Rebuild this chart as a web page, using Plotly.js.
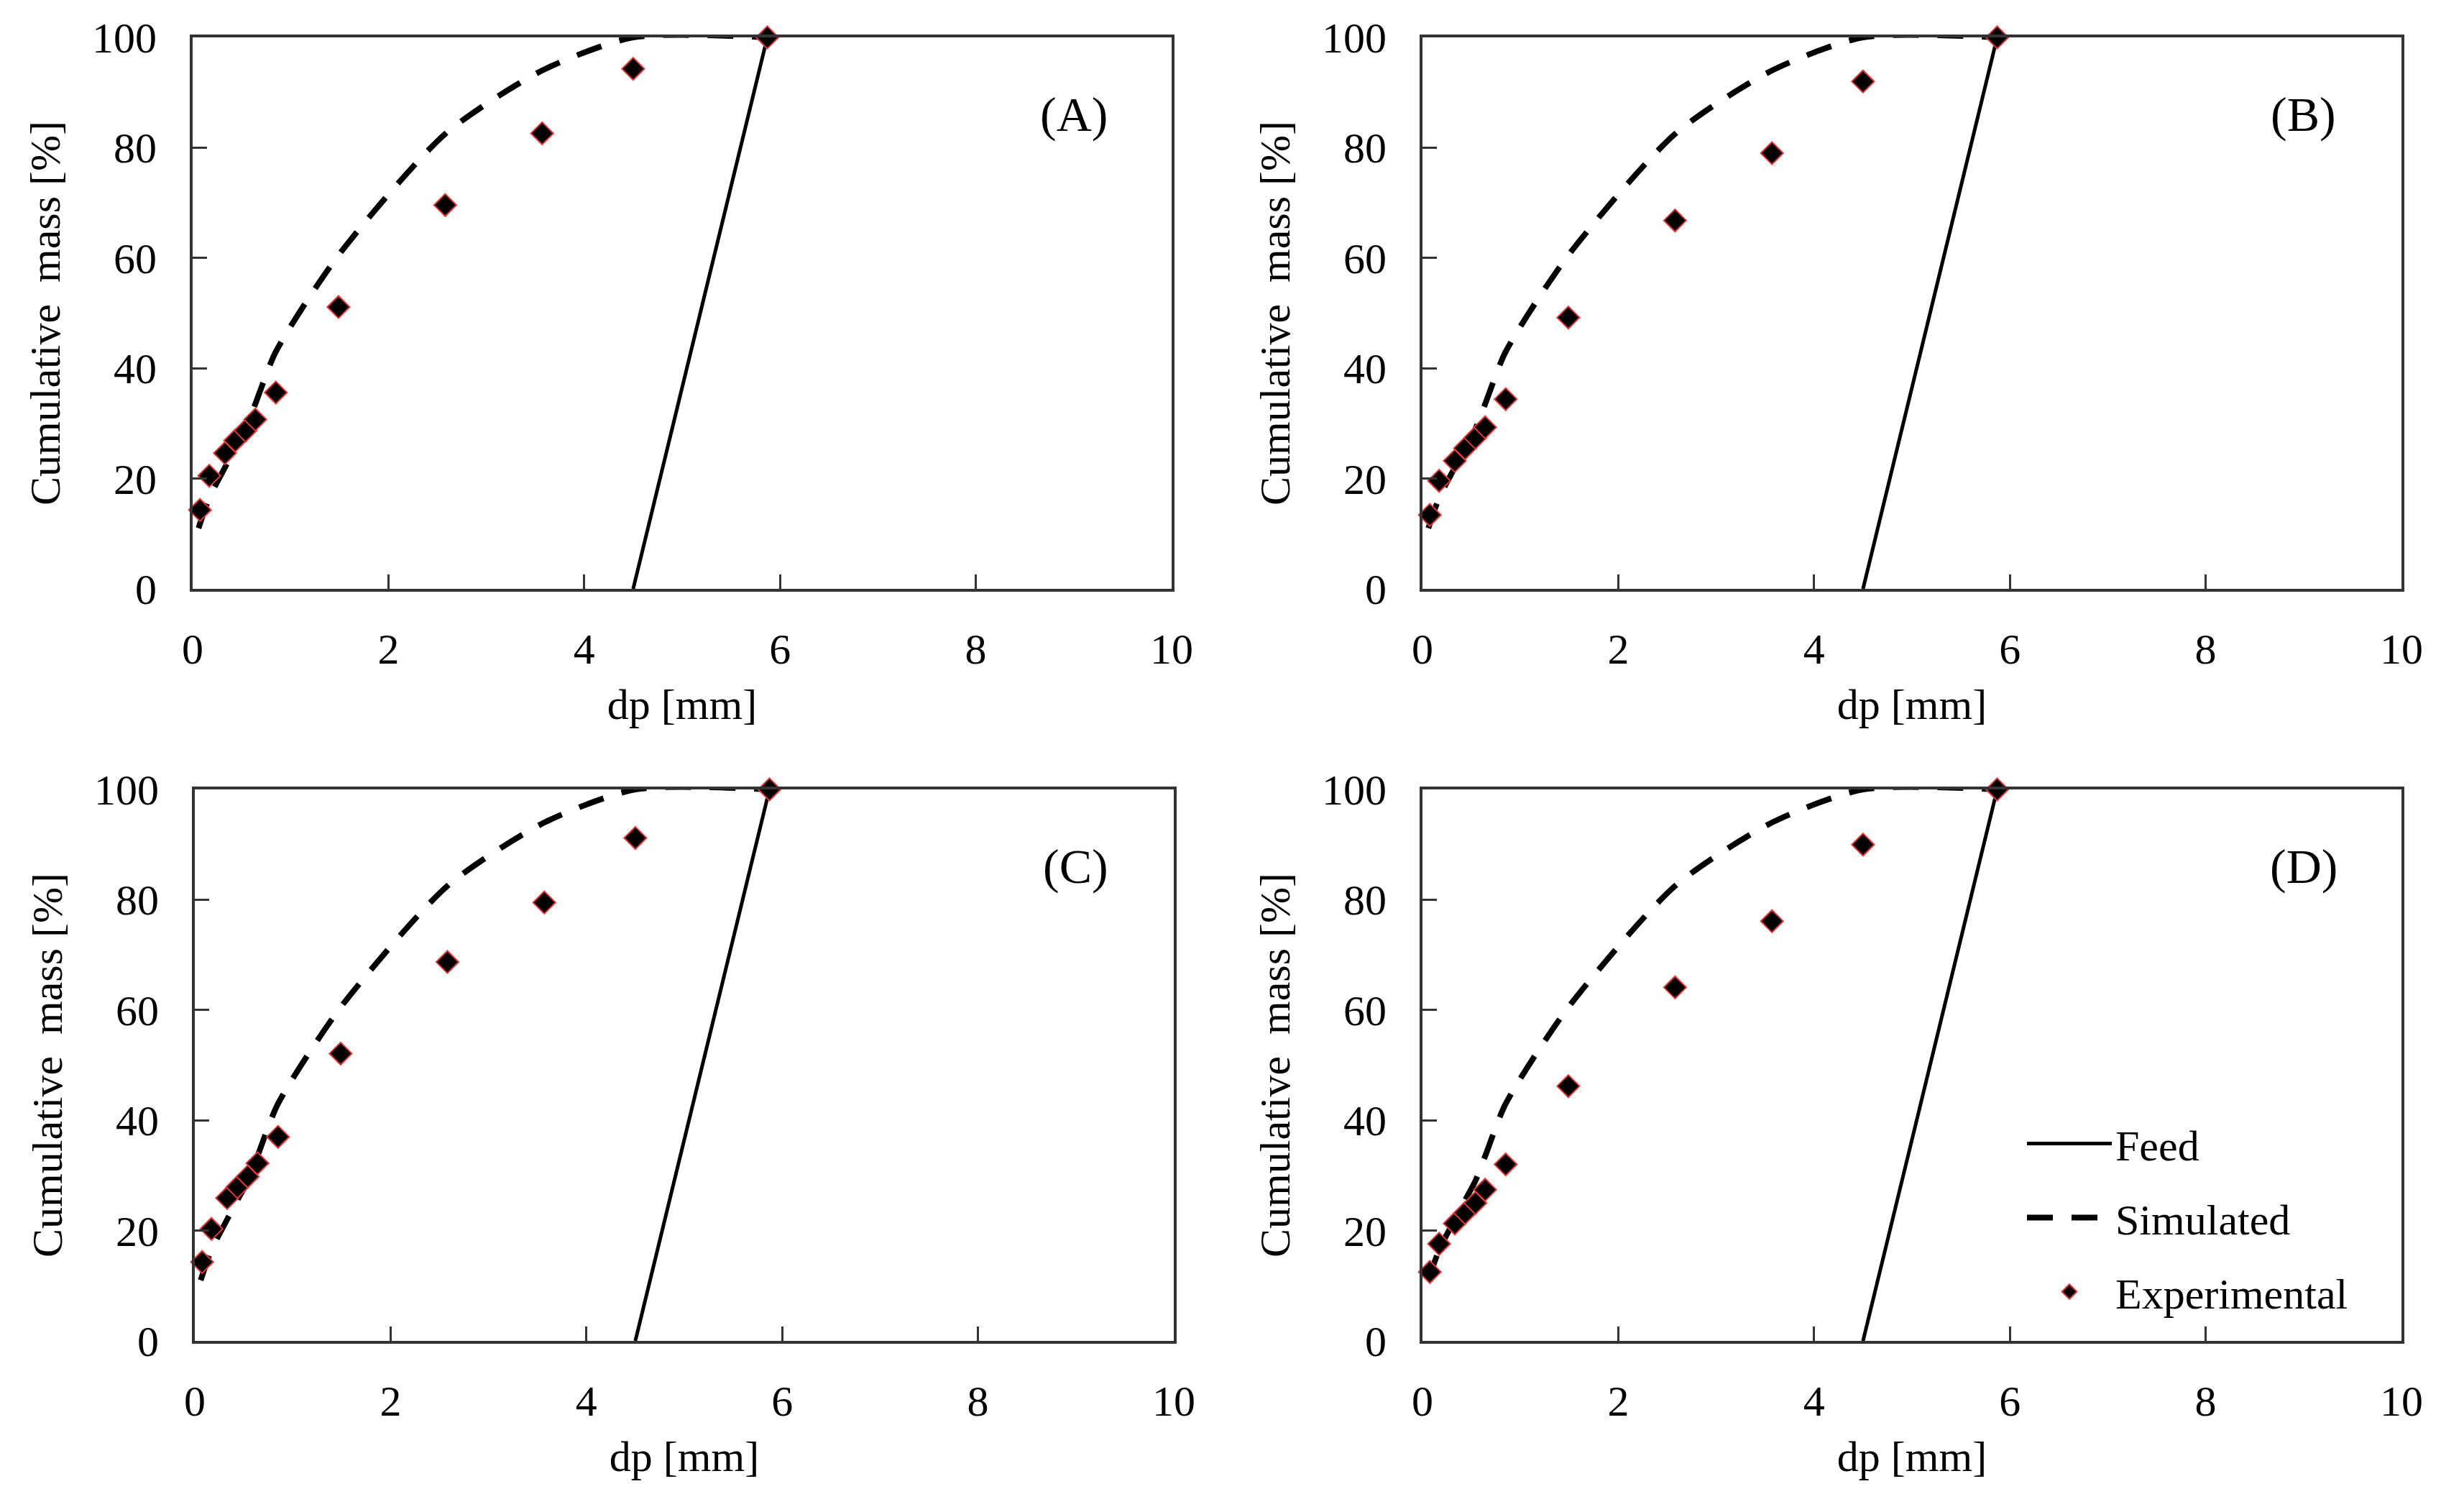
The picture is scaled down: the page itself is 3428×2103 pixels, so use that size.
<!DOCTYPE html>
<html>
    <head>
        <meta charset="utf-8">
        <title>Cumulative mass</title>
        <script src="https://cdn.plot.ly/plotly-3.0.1.min.js" charset="utf-8"></script>
        <style>
            *{ margin: 0px; padding: 0px; }
            body{ background: white; }
            #chart{ width: 3428px; height: 2103px; }
        </style>
    </head>
    <body>
        <div id="chart"></div>
    </body>
    <script>
        // sieve sizes, mm
        const dp = [0.075, 0.17, 0.33, 0.435, 0.54, 0.64, 0.85, 1.49, 2.58, 3.57, 4.5, 5.87];

        // experimental cumulative mass, %
        const expA = [14.3, 20.5, 24.6, 26.9, 28.7, 30.7, 35.6, 51.1, 69.6, 82.6, 94.3, 100];
        const expB = [13.4, 19.6, 23.2, 25.5, 27.4, 29.3, 34.4, 49.2, 66.8, 79.0, 92.0, 100];
        const expC = [14.3, 20.3, 25.9, 27.9, 29.8, 32.2, 37.0, 52.1, 68.7, 79.5, 91.2, 100];
        const expD = [12.5, 17.6, 21.3, 23.2, 25.0, 27.4, 32.0, 46.2, 64.1, 76.1, 90.0, 100];

        // simulated curve (same in all panels)
        const simX = [0.06, 0.17, 0.33, 0.435, 0.54, 0.64, 0.85, 1.49, 2.58, 3.57, 4.5, 5.87];
        const simY = [11, 16.5, 22, 25.5, 29, 33.5, 43, 60.5, 82.5, 94, 100, 100];

        // feed distribution
        const feedX = [4.5, 5.87];
        const feedY = [0, 100];

        const panels = ["(A)", "(B)", "(C)", "(D)"];
        const expAll = [expA, expB, expC, expD];

        const W = 3428, H = 2103;
        const serif = "Liberation Serif, Times New Roman, serif";

        // plot boxes in pixels: left, right, top, bottom
        const boxes = [
            [268, 1630, 52, 819],
            [1979, 3341, 52, 819],
            [271, 1633, 1098, 1865],
            [1979, 3341, 1098, 1865]
        ];

        let data = [];
        let layout = {
            width: W,
            height: H,
            margin: {l: 0, r: 0, t: 0, b: 0},
            paper_bgcolor: "white",
            plot_bgcolor: "white",
            font: {family: serif, size: 60, color: "black"},
            showlegend: true,
            legend: {
                x: 2815 / W,
                y: 1 - 1545 / H,
                xanchor: "left",
                yanchor: "top",
                bgcolor: "rgba(0,0,0,0)",
                font: {family: serif, size: 60, color: "black"},
                itemwidth: 118,
                tracegroupgap: 22,
                traceorder: "grouped"
            },
            annotations: []
        };

        for (let i = 0; i < 4; i++)
        {
            let n = i === 0 ? "" : String(i + 1);
            let xa = "x" + n, ya = "y" + n;
            let b = boxes[i];
            let last = (i === 3);

            data.push({
                x: feedX, y: feedY, xaxis: xa, yaxis: ya,
                type: "scatter", mode: "lines", name: "Feed",
                legendgroup: "feed", showlegend: last,
                line: {color: "black", width: 5}
            });
            data.push({
                x: simX, y: simY, xaxis: xa, yaxis: ya,
                type: "scatter", mode: "lines", name: "Simulated",
                legendgroup: "sim", showlegend: last,
                line: {color: "black", width: 8, dash: "36px,26px", shape: "spline", smoothing: 0.7}
            });
            data.push({
                x: dp, y: expAll[i], xaxis: xa, yaxis: ya,
                type: "scatter", mode: "markers", name: "Experimental",
                legendgroup: "exp", showlegend: last, cliponaxis: false,
                marker: {symbol: "diamond", size: 24, color: "black", line: {color: "#e23a3a", width: 2}}
            });

            let common = {
                showgrid: false,
                zeroline: false,
                showline: true,
                mirror: true,
                linecolor: "#333",
                linewidth: 4,
                ticks: "inside",
                ticklen: 20,
                tickwidth: 3,
                tickcolor: "#333",
                tickfont: {family: serif, size: 60, color: "black"},
                fixedrange: true
            };

            layout["xaxis" + n] = Object.assign({}, common, {
                domain: [b[0] / W, b[1] / W],
                anchor: ya,
                range: [0, 10],
                dtick: 2,
                ticklabelstandoff: 28,
                title: {text: "dp [mm]", font: {family: serif, size: 60, color: "black"}, standoff: 24}
            });
            layout["yaxis" + n] = Object.assign({}, common, {
                domain: [1 - b[3] / H, 1 - b[2] / H],
                anchor: xa,
                range: [0, 100],
                dtick: 20,
                ticklabelstandoff: 34,
                title: {text: "Cumulative  mass [%]", font: {family: serif, size: 60, color: "black"}, standoff: 26}
            });

            layout.annotations.push({
                text: panels[i],
                xref: xa, yref: ya,
                x: 9.0, y: 86,
                showarrow: false,
                font: {family: serif, size: 68, color: "black"}
            });
        }

        Plotly.newPlot("chart", data, layout, {displayModeBar: false, staticPlot: true});
    </script>
</html>
